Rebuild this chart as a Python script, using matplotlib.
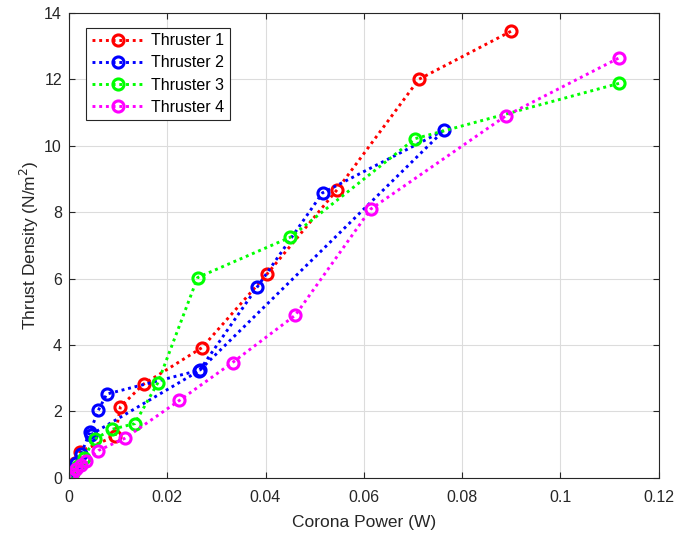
"""Thrust density against corona power for four thrusters."""
import matplotlib
matplotlib.use("Agg")
import matplotlib.pyplot as plt

plt.rcParams["font.family"] = ["Liberation Sans", "DejaVu Sans"]

# values
t1_power = [0.0, 0.0005, 0.0012, 0.0022, 0.0094, 0.0105, 0.0152, 0.0271, 0.0404, 0.0546, 0.0712, 0.0900]
t1_thrust = [0.0, 0.18, 0.45, 0.78, 1.26, 2.14, 2.82, 3.92, 6.15, 8.68, 12.0, 13.45]

t2_power = [0.0, 0.0007, 0.0015, 0.0025, 0.0043, 0.0060, 0.0077, 0.0266, 0.0383, 0.0516, 0.0763, 0.0265, 0.0045]
t2_thrust = [0.0, 0.2, 0.45, 0.72, 1.38, 2.03, 2.52, 3.24, 5.74, 8.58, 10.46, 3.22, 1.30]

t3_power = [0.0, 0.0008, 0.0018, 0.0030, 0.0053, 0.0088, 0.0134, 0.0181, 0.0262, 0.0450, 0.0704, 0.1120]
t3_thrust = [0.0, 0.15, 0.35, 0.6, 1.17, 1.46, 1.63, 2.86, 6.03, 7.24, 10.21, 11.88]

t4_power = [0.0, 0.0006, 0.0014, 0.0025, 0.0035, 0.0060, 0.0114, 0.0225, 0.0333, 0.0461, 0.0614, 0.0889, 0.1120]
t4_thrust = [0.0, 0.12, 0.25, 0.38, 0.5, 0.82, 1.19, 2.33, 3.47, 4.9, 8.09, 10.9, 12.65]

labels = ["Thruster 1", "Thruster 2", "Thruster 3", "Thruster 4"]
colors = ["#ff0000", "#0000ff", "#00ff00", "#ff00ff"]

x_ticks = [0, 0.02, 0.04, 0.06, 0.08, 0.1, 0.12]
x_tick_labels = ["0", "0.02", "0.04", "0.06", "0.08", "0.1", "0.12"]
y_ticks = [0, 2, 4, 6, 8, 10, 12, 14]

fig = plt.figure(figsize=(6.75, 5.35), dpi=100)
ax = fig.add_axes([0.102, 0.107, 0.874, 0.869])

series = [(t1_power, t1_thrust), (t2_power, t2_thrust), (t3_power, t3_thrust), (t4_power, t4_thrust)]
for (px, ty), label, color in zip(series, labels, colors):
    ax.plot(
        px,
        ty,
        linestyle=(0, (1, 1.3)),
        linewidth=2.1,
        color=color,
        marker="o",
        markersize=8,
        markeredgewidth=2.2,
        markerfacecolor="none",
        label=label,
    )

ax.set_xlim(0, 0.12)
ax.set_ylim(0, 14)
ax.set_xticks(x_ticks)
ax.set_xticklabels(x_tick_labels)
ax.set_yticks(y_ticks)
ax.tick_params(direction="in", top=True, right=True, labelsize=11.5, colors="#262626", length=4)
ax.tick_params(axis="x", pad=9)
ax.tick_params(axis="y", pad=5)
ax.grid(True, color="#dcdcdc", linewidth=0.8)
ax.set_axisbelow(True)
for spine in ax.spines.values():
    spine.set_color("#262626")
    spine.set_linewidth(0.8)

ax.set_xlabel("Corona Power (W)", fontsize=12.5, color="#262626", labelpad=7)
ax.set_ylabel("Thrust Density (N/m$^2$)", fontsize=12.5, color="#262626", labelpad=2)

leg = ax.legend(
    loc="upper left",
    bbox_to_anchor=(0.029, 0.968),
    fontsize=11.5,
    fancybox=False,
    framealpha=1,
    edgecolor="#262626",
    handlelength=3.3,
    borderpad=0.35,
    labelspacing=0.45,
    handletextpad=0.45,
    borderaxespad=0.0,
)
leg.get_frame().set_linewidth(0.8)

fig.savefig("out.png", dpi=100)
